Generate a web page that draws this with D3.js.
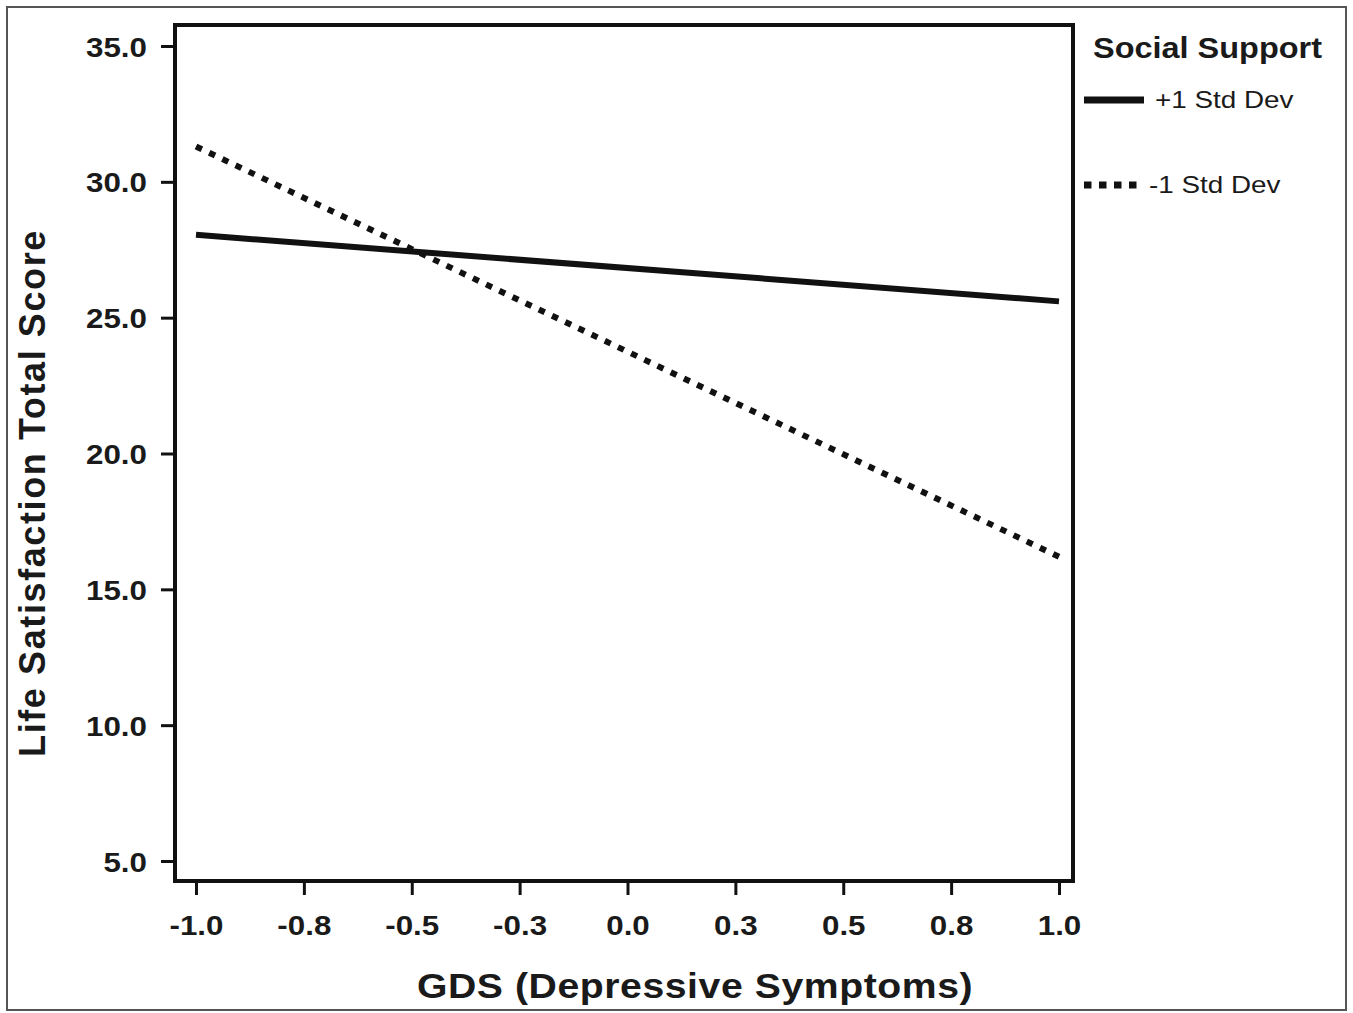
<!DOCTYPE html>
<html>
<head>
<meta charset="utf-8">
<script src="https://cdn.jsdelivr.net/npm/d3@7"></script>
<style>
  body { margin: 0; background: #fff; }
  text { font-family: "Liberation Sans", Arial, sans-serif; fill: #1a1a1a; }
</style>
</head>
<body>
<div class="chart"></div>
<script>
// values
const gds = [-1, 1];
const highSupport = [28.05, 25.6];   // +1 Std Dev
const lowSupport = [31.3, 16.2];     // -1 Std Dev
const seriesNames = ["+1 Std Dev", "-1 Std Dev"];
const legendTitle = "Social Support";
const xTicks = [-1, -0.75, -0.5, -0.25, 0, 0.25, 0.5, 0.75, 1];
const xTickLabels = ["-1.0", "-0.8", "-0.5", "-0.3", "0.0", "0.3", "0.5", "0.8", "1.0"];
const yTicks = [5, 10, 15, 20, 25, 30, 35];
const yTickLabels = ["5.0", "10.0", "15.0", "20.0", "25.0", "30.0", "35.0"];
const xTitle = "GDS (Depressive Symptoms)";
const yTitle = "Life Satisfaction Total Score";

const width = 1353, height = 1013;
const plotLeft = 175, plotRight = 1073, plotTop = 25, plotBottom = 881;
const sx = 1.12; // the original picture is a bit stretched sideways

const svg = d3.select('.chart')
  .append('svg')
  .attr('width', width)
  .attr('height', height);

// outer frame of the picture
svg.append('rect')
  .attr('x', 7).attr('y', 7)
  .attr('width', 1339).attr('height', 1003)
  .attr('fill', 'none')
  .attr('stroke', '#555')
  .attr('stroke-width', 2);

const x = d3.scaleLinear().domain([-1, 1]).range([196, 1059]);
const y = d3.scaleLinear().domain([5, 35]).range([861, 46]);

// y axis
const yAxis = svg.append('g')
  .attr('transform', `translate(${plotLeft},0)`)
  .call(d3.axisLeft(y).tickValues(yTicks).tickSize(14).tickPadding(14)
    .tickFormat((d, i) => yTickLabels[i]));
yAxis.select('.domain').remove();
yAxis.selectAll('line').attr('stroke', '#111').attr('stroke-width', 3);
yAxis.selectAll('text')
  .attr('x', -28 / sx)
  .attr('dy', '0.36em')
  .attr('transform', `scale(${sx},1)`)
  .style('font-size', '28px')
  .style('font-weight', 'bold')
  .attr('fill', '#222');

// x axis
const xAxis = svg.append('g')
  .attr('transform', `translate(0,${plotBottom})`)
  .call(d3.axisBottom(x).tickValues(xTicks).tickSize(14).tickPadding(14)
    .tickFormat((d, i) => xTickLabels[i]));
xAxis.select('.domain').remove();
xAxis.selectAll('line').attr('stroke', '#111').attr('stroke-width', 3);
xAxis.selectAll('text')
  .attr('y', 54)
  .attr('dy', 0)
  .attr('x', 0)
  .attr('transform', `scale(${sx},1)`)
  .attr('text-anchor', 'middle')
  .style('font-size', '28px')
  .style('font-weight', 'bold')
  .attr('fill', '#222');

// plot frame
svg.append('rect')
  .attr('x', plotLeft).attr('y', plotTop)
  .attr('width', plotRight - plotLeft).attr('height', plotBottom - plotTop)
  .attr('fill', 'none')
  .attr('stroke', '#111')
  .attr('stroke-width', 4);

// lines
const line = d3.line().x(d => x(d[0])).y(d => y(d[1]));
svg.append('path')
  .datum(gds.map((g, i) => [g, highSupport[i]]))
  .attr('d', line)
  .attr('fill', 'none')
  .attr('stroke', '#111')
  .attr('stroke-width', 6);

// dotted line: fit the dot pattern so both ends get a dot
const lowPath = svg.append('path')
  .datum(gds.map((g, i) => [g, lowSupport[i]]))
  .attr('d', line)
  .attr('fill', 'none')
  .attr('stroke', '#111')
  .attr('stroke-width', 6);
const len = lowPath.node().getTotalLength();
const dot = 6.5;
const n = Math.round((len - dot) / 14.7);
lowPath.attr('stroke-dasharray', `${dot},${(len - dot) / n - dot}`);

// axis titles
svg.append('g')
  .attr('transform', `translate(695,998) scale(${sx},1)`)
  .append('text')
  .attr('text-anchor', 'middle')
  .style('font-size', '35px')
  .style('font-weight', 'bold')
  .style('letter-spacing', '0.5px')
  .text(xTitle);

svg.append('text')
  .attr('transform', 'translate(45,493) rotate(-90)')
  .attr('text-anchor', 'middle')
  .style('font-size', '36px')
  .style('font-weight', 'bold')
  .style('letter-spacing', '1.6px')
  .text(yTitle);

// legend
svg.append('g')
  .attr('transform', `translate(1093,58) scale(${sx},1)`)
  .append('text')
  .style('font-size', '29px')
  .style('font-weight', 'bold')
  .text(legendTitle);

const legend = svg.selectAll('.legend-item')
  .data(seriesNames)
  .enter()
  .append('g')
  .attr('class', 'legend-item')
  .attr('transform', (d, i) => `translate(1084,${i === 0 ? 100 : 185})`);
legend.append('line')
  .attr('x1', 0).attr('x2', (d, i) => i === 0 ? 60 : 55)
  .attr('stroke', '#111')
  .attr('stroke-width', 7)
  .attr('stroke-dasharray', (d, i) => i === 0 ? null : '7.5,7.5');
legend.append('g')
  .attr('transform', (d, i) => `translate(${i === 0 ? 71 : 65},8) scale(1.16,1)`)
  .append('text')
  .style('font-size', '24px')
  .text(d => d);
</script>
</body>
</html>
